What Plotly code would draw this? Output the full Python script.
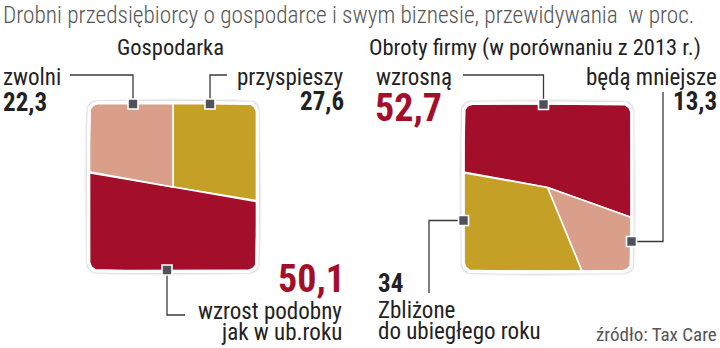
import math
import plotly.graph_objects as go

# ---- data -------------------------------------------------------------
title = "Drobni przedsiębiorcy o gospodarce i swym biznesie, przewidywania  w proc."
source = "źródło: Tax Care"

econ_title = "Gospodarka"
econ_labels = ["przyspieszy", "wzrost podobny\njak w ub.roku", "zwolni"]
econ_values = [27.6, 50.1, 22.3]

turn_title = "Obroty firmy (w porównaniu z 2013 r.)"
turn_labels = ["wzrosną", "będą mniejsze", "Zbliżone\ndo ubiegłego roku"]
turn_values = [52.7, 13.3, 34.0]

# ---- style ------------------------------------------------------------
W, H = 720, 348
RED, GOLD, PINK = "#A30F2B", "#C4A126", "#D99F8A"
econ_colors = [GOLD, RED, PINK]
turn_colors = [RED, PINK, GOLD]
DARK = "#222222"
GREY = "#555555"
LINE = "#3a3a3a"
FONT = "Liberation Sans Narrow, Roboto Condensed, Roboto, sans-serif"

HALF = 84      # half side of each square
RADIUS = 10    # corner radius
econ_center = (173, 187)
turn_center = (547.5, 187.5)
econ_start = 0      # degrees clockwise from 12 o'clock
turn_start = 280


def fmt(v):
    return f"{v:g}".replace(".", ",")


def edge_point(cx, cy, theta):
    """Point where a ray from the centre (angle clockwise from up) meets
    the rounded square outline."""
    t = math.radians(theta)
    dx, dy = math.sin(t), -math.cos(t)
    s = HALF / max(abs(dx), abs(dy))
    px, py = dx * s, dy * s
    c = HALF - RADIUS
    if abs(px) > c and abs(py) > c:
        ox, oy = math.copysign(c, px), math.copysign(c, py)
        b = dx * ox + dy * oy
        disc = b * b - (ox * ox + oy * oy) + RADIUS * RADIUS
        s = b + math.sqrt(max(disc, 0.0))
        px, py = dx * s, dy * s
    return cx + px, cy + py


def square_pie(center, values, colors, start):
    """Slices of a 'square pie': angles proportional to the values."""
    cx, cy = center
    total = sum(values)
    traces = []
    a0 = start
    for v, col in zip(values, colors):
        a1 = a0 + 360.0 * v / total
        n = max(2, int(abs(a1 - a0) / 0.5))
        xs, ys = [cx], [cy]
        for i in range(n + 1):
            x, y = edge_point(cx, cy, a0 + (a1 - a0) * i / n)
            xs.append(x)
            ys.append(y)
        xs.append(cx)
        ys.append(cy)
        traces.append(go.Scatter(x=xs, y=ys, mode="lines", fill="toself",
                                 fillcolor=col, line=dict(color="white", width=1.6),
                                 hoverinfo="skip", showlegend=False))
        a0 = a1
    return traces


def outline(center, grow=0.0):
    cx, cy = center
    xs, ys = [], []
    for i in range(721):
        x, y = edge_point(cx, cy, i * 0.5)
        dx, dy = x - cx, y - cy
        d = math.hypot(dx, dy)
        xs.append(x + dx / d * grow)
        ys.append(y + dy / d * grow)
    return xs, ys


fig = go.Figure()

# soft shadow around each square
for c in (econ_center, turn_center):
    for g, op in ((4.5, 0.06), (3.0, 0.10), (1.5, 0.14)):
        xs, ys = outline(c, g)
        fig.add_trace(go.Scatter(x=xs, y=ys, mode="lines", fill="toself",
                                 fillcolor=f"rgba(0,0,0,{op})", line=dict(width=0),
                                 hoverinfo="skip", showlegend=False))

for tr in square_pie(econ_center, econ_values, econ_colors, econ_start):
    fig.add_trace(tr)
for tr in square_pie(turn_center, turn_values, turn_colors, turn_start):
    fig.add_trace(tr)

# white frame
for c in (econ_center, turn_center):
    xs, ys = outline(c, 0.5)
    fig.add_trace(go.Scatter(x=xs, y=ys, mode="lines",
                             line=dict(color="white", width=3.5),
                             hoverinfo="skip", showlegend=False))

# leader lines and square markers
ecx, ecy = econ_center
tcx, tcy = turn_center
top_e = ecy - HALF
bot_e = ecy + HALF
leaders = [
    ([70, ecx - 40, ecx - 40], [75, 75, top_e]),             # zwolni
    ([227, ecx + 37, ecx + 37], [75, 75, top_e]),            # przyspieszy
    ([ecx - 6, ecx - 6, 185], [bot_e, 315, 315]),            # wzrost podobny
    ([463, tcx - 4, tcx - 4], [75, 75, tcy - HALF]),         # wzrosną
    ([tcx + HALF, 663, 663], [tcy + 54, tcy + 54, 92]),      # będą mniejsze
    ([tcx - HALF, 429, 429], [tcy + 33, tcy + 33, 293]),     # zbliżone
]
for xs, ys in leaders:
    fig.add_trace(go.Scatter(x=xs, y=ys, mode="lines",
                             line=dict(color=LINE, width=1.3),
                             hoverinfo="skip", showlegend=False))
mx = [ecx - 40, ecx + 37, ecx - 6, tcx - 4, tcx + HALF, tcx - HALF]
my = [top_e + 1, top_e + 1, bot_e - 1, tcy - HALF + 1, tcy + 54, tcy + 33]
fig.add_trace(go.Scatter(x=mx, y=my, mode="markers",
                         marker=dict(symbol="square", size=10, color="#4f5359",
                                     line=dict(color="white", width=1.6)),
                         hoverinfo="skip", showlegend=False))

ann = []


def text(x, y, s, size, color=DARK, anchor="left", weight="normal"):
    ann.append(dict(x=x, y=y, text=s, showarrow=False, xanchor=anchor,
                    yanchor="middle",
                    font=dict(family=FONT, size=size, color=color, weight=weight)))


def label(x, y, s, anchor, gap=21, size=23):
    for i, part in enumerate(s.split("\n")):
        text(x, y + i * gap, part, size, anchor=anchor)


text(1, 15, title, 23.3, color=GREY, weight=300)
text(ecx - 3, 47, econ_title, 22.5, anchor="center")
text(367, 47, turn_title, 22.5)

# Gospodarka labels
label(1, 77, econ_labels[2], "left")
text(1, 102, fmt(econ_values[2]), 25, weight="bold")
label(346, 77, econ_labels[0], "right")
text(346, 101, fmt(econ_values[0]), 25, weight="bold", anchor="right")
text(347, 279, fmt(econ_values[1]), 38, color=RED, weight="bold", anchor="right")
label(344, 311, econ_labels[1], "right")

# Obroty labels
label(374, 77, turn_labels[0], "left")
text(373, 108, fmt(turn_values[0]), 38, color=RED, weight="bold")
label(719, 77, turn_labels[1], "right")
text(719, 101, fmt(turn_values[1]), 25, weight="bold", anchor="right")
text(376, 283, fmt(turn_values[2]), 25, weight="bold")
label(376, 310, turn_labels[2], "left")

text(719, 334, source, 19, color=GREY, anchor="right")

fig.update_layout(
    width=W, height=H,
    margin=dict(l=0, r=0, t=0, b=0),
    paper_bgcolor="white", plot_bgcolor="white",
    xaxis=dict(range=[0, W], visible=False, fixedrange=True),
    yaxis=dict(range=[H, 0], visible=False, fixedrange=True),
    annotations=ann,
    showlegend=False,
)

fig.write_html("out.html")
